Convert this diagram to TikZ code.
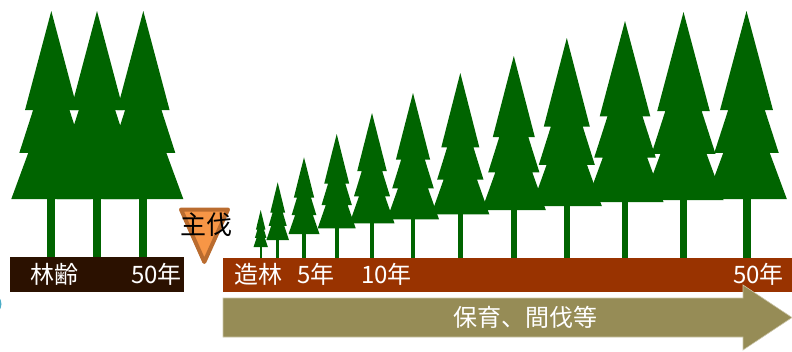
\documentclass[tikz,border=0pt]{standalone}
\usepackage{fontspec}
\newfontfamily\jpfont{Noto Sans CJK JP}

\definecolor{pine}{HTML}{006400}
\definecolor{agebar}{HTML}{2B1100}
\definecolor{plantbar}{HTML}{993300}
\definecolor{carefill}{HTML}{968C56}
\definecolor{careedge}{HTML}{CBC5A8}
\definecolor{fellfill}{HTML}{F79646}
\definecolor{felledge}{HTML}{BA6C2F}
\definecolor{aqua}{HTML}{4BACC6}

\tikzset{
  barlabel/.style={text=white, inner sep=0pt, font=\jpfont\fontsize{24}{28}\selectfont},
  felllabel/.style={text=black, inner sep=0pt, font=\jpfont\fontsize{26}{28}\selectfont},
}

% #1 centre x, #2 apex y, #3 crown base y, #4 crown half width,
% #5 trunk width, #6 ground y
\newcommand\pinetree[6]{%
  \pgfmathsetmacro\crownh{#3-#2}%
  \fill[pine] (#1,#2)
    -- ({#1+0.657*#4},{#2+0.527*\crownh}) -- ({#1+0.455*#4},{#2+0.527*\crownh})
    -- ({#1+0.8*#4},{#2+0.755*\crownh})   -- ({#1+0.577*#4},{#2+0.755*\crownh})
    -- ({#1+#4},#3) -- ({#1-#4},#3)
    -- ({#1-0.577*#4},{#2+0.755*\crownh}) -- ({#1-0.8*#4},{#2+0.755*\crownh})
    -- ({#1-0.455*#4},{#2+0.527*\crownh}) -- ({#1-0.657*#4},{#2+0.527*\crownh})
    -- cycle;
  \fill[pine] ({#1-0.5*#5},{#3-0.5}) rectangle ({#1+0.5*#5},#6);
}

\begin{document}
\begin{tikzpicture}[x=1pt,y=-1pt]
  \useasboundingbox (0,0) rectangle (792,351);

  % partly hidden marker at the left edge
  \begin{scope}
    \clip (0,0) rectangle (792,351);
    \fill[aqua] (-9,304) circle (10.5);
  \end{scope}

  % mature stand
  \pinetree{51.3}{11}{199}{40}{8}{257}
  \pinetree{97}{11}{199}{40}{8}{257}
  \pinetree{143.3}{11}{199}{40}{8}{257}

  % growing stand
  \pinetree{260.7}{210}{247}{7.2}{2.4}{258}
  \pinetree{277.7}{182.3}{240}{11.3}{2.8}{258}
  \pinetree{304}{157.3}{234}{15.5}{3.2}{258}
  \pinetree{336.7}{134}{228.3}{19}{3.6}{258}
  \pinetree{372}{113}{223.3}{22.5}{4.2}{258}
  \pinetree{413}{93}{219.3}{26}{4.8}{258}
  \pinetree{460.3}{73}{214.3}{29}{5.3}{258}
  \pinetree{513.8}{56}{210}{32}{5.8}{258}
  \pinetree{566.8}{38}{206}{35}{6.3}{258}
  \pinetree{625}{21}{202}{38.5}{6.8}{258}
  \pinetree{683.5}{12}{200}{40}{7.6}{258}
  \pinetree{746.5}{11}{199}{40.3}{8}{258}

  % age bars
  \fill[agebar] (10,257) rectangle (184,291.7);
  \node[barlabel, anchor=west] (age) at (30,274.5) {林齢};
  \node[barlabel, anchor=east] (ageyears) at (182,274.5) {50年};

  \fill[plantbar] (223,258) rectangle (792,291.7);
  \node[barlabel, anchor=west] (plant) at (234,274.5) {造林};
  \node[barlabel, anchor=west] (five) at (297,274.5) {5年};
  \node[barlabel, anchor=west] (ten) at (361,274.5) {10年};
  \node[barlabel, anchor=east] (fifty) at (784,274.5) {50年};

  % tending arrow
  \filldraw[fill=carefill, draw=careedge, line width=0.6pt]
    (223,298) -- (743,298) -- (743,285) -- (792,317.5)
    -- (743,350) -- (743,337) -- (223,337) -- cycle;
  \node[barlabel] (care) at (525,317) {保育、間伐等};

  % final felling marker
  \filldraw[fill=fellfill, draw=felledge, line width=4pt, line join=round]
    (181,209.5) -- (228,209.5) -- (204.3,262) -- cycle;
  \node[felllabel] (fell) at (206.4,224.5) {主伐};
\end{tikzpicture}
\end{document}
